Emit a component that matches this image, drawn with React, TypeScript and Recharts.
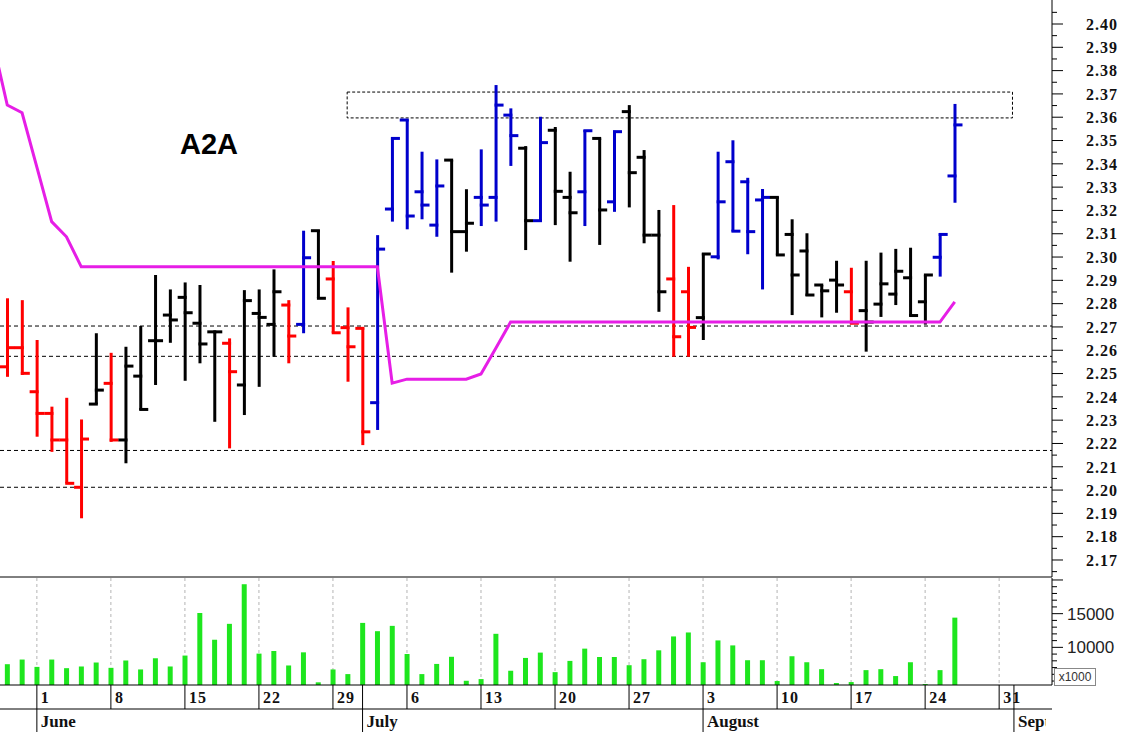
import React from 'react';
import { ComposedChart, Bar, Line, XAxis, YAxis, ReferenceArea, CartesianGrid } from 'recharts';

// sessions: index 0 = Thu 28 May ... index 64 = Wed 26 Aug
const OPENS = [
  2.2529, 2.2611, 2.2422, 2.2329, 2.2215, 2.2012, 2.2369, 2.2458, 2.2215, 2.2489,
  2.2641, 2.2751, 2.2827, 2.2716, 2.2679, 2.2630, 2.2451, 2.2758, 2.2711, 2.2794,
  2.2711, 2.3113, 2.2906, 2.2697, 2.2694, 2.2375, 2.3206, 2.3588, 2.3280, 2.3137,
  2.3416, 2.3109, 2.3256, 2.3256, 2.3609, 2.3467, 2.3156, 2.3544, 2.3256, 2.3280,
  2.3509, 2.3237, 2.3624, 2.3428, 2.3094, 2.2906, 2.2851, 2.2740, 2.3001, 2.3409,
  2.3323, 2.3245, 2.3256, 2.3097, 2.3026, 2.2880, 2.2901, 2.2851, 2.2770, 2.2798,
  2.2841, 2.2911, 2.2808, 2.2999, 2.3348,
];
const HIGHS = [
  2.2823, 2.2815, 2.2644, 2.2358, 2.2396, 2.2303, 2.2673, 2.2589, 2.2615, 2.2704,
  2.2923, 2.2861, 2.2891, 2.2880, 2.2679, 2.2651, 2.2858, 2.2861, 2.2947, 2.2815,
  2.3113, 2.3116, 2.2983, 2.2784, 2.2698, 2.3094, 2.3514, 2.3591, 2.3452, 2.3419,
  2.3416, 2.3291, 2.3462, 2.3738, 2.3638, 2.3476, 2.3602, 2.3558, 2.3366, 2.3545,
  2.3509, 2.3542, 2.3652, 2.3459, 2.3202, 2.3223, 2.2958, 2.3016, 2.3452, 2.3501,
  2.3340, 2.3292, 2.3259, 2.3162, 2.3102, 2.2880, 2.2984, 2.2954, 2.2984, 2.3019,
  2.3035, 2.3040, 2.2923, 2.3102, 2.3657,
];
const LOWS = [
  2.2486, 2.2494, 2.2229, 2.2164, 2.2029, 2.1879, 2.2369, 2.2207, 2.2115, 2.2343,
  2.2451, 2.2632, 2.2469, 2.2544, 2.2293, 2.2179, 2.2322, 2.2443, 2.2572, 2.2544,
  2.2673, 2.2823, 2.2675, 2.2465, 2.2193, 2.2258, 2.3152, 2.3119, 2.3162, 2.3087,
  2.2933, 2.3023, 2.3133, 2.3152, 2.3391, 2.3030, 2.3152, 2.3137, 2.2980, 2.3133,
  2.3052, 2.3194, 2.3213, 2.3059, 2.2765, 2.2572, 2.2572, 2.2644, 2.2990, 2.3109,
  2.3012, 2.2861, 2.3009, 2.2751, 2.2833, 2.2741, 2.2761, 2.2712, 2.2594, 2.2743,
  2.2794, 2.2746, 2.2710, 2.2916, 2.3233,
];
const CLOSES = [
  2.2611, 2.2501, 2.2329, 2.2215, 2.2029, 2.2219, 2.2429, 2.2215, 2.2532, 2.2346,
  2.2641, 2.2730, 2.2761, 2.2627, 2.2679, 2.2508, 2.2813, 2.2741, 2.2851, 2.2661,
  2.2997, 2.2823, 2.2675, 2.2615, 2.2250, 2.3034, 2.3509, 2.3176, 2.3223, 2.3305,
  2.3109, 2.3145, 2.3223, 2.3652, 2.3521, 2.3156, 2.3491, 2.3282, 2.3190, 2.3542,
  2.3202, 2.3538, 2.3362, 2.3094, 2.2851, 2.2658, 2.2698, 2.3013, 2.3237, 2.3111,
  2.3109, 2.3256, 2.3009, 2.2923, 2.2837, 2.2855, 2.2880, 2.2716, 2.2721, 2.2885,
  2.2939, 2.2749, 2.2923, 2.3097, 2.3567,
];
// r = red, k = black, b = blue
const TONES = 'rrrrrrkrkkkkkkkrkkkrbkrrrbbbbbkkbbbkbkkbkbkkkrrkbbbbkkkkkrkkkkkbb'.split('');

// stop line starts one session earlier (index -1) so it enters from the left edge
const STOP_LINE = [
  2.3930, 2.3652, 2.3619, 2.3386, 2.3152, 2.3087,
  2.2958, 2.2958, 2.2958, 2.2958, 2.2958, 2.2958, 2.2958, 2.2958, 2.2958, 2.2958,
  2.2958, 2.2958, 2.2958, 2.2958, 2.2958, 2.2958, 2.2958, 2.2958, 2.2958, 2.2958, 2.2958,
  2.2459, 2.2476, 2.2476, 2.2476, 2.2476, 2.2476, 2.2498, 2.2609,
  2.2721, 2.2721, 2.2721, 2.2721, 2.2721, 2.2721, 2.2721, 2.2721, 2.2721, 2.2721,
  2.2721, 2.2721, 2.2721, 2.2721, 2.2721, 2.2721, 2.2721, 2.2721, 2.2721, 2.2721,
  2.2721, 2.2721, 2.2721, 2.2721, 2.2721, 2.2721, 2.2721, 2.2721, 2.2721, 2.2721,
  2.2808,
];

const VOLUMES = [
  7500, 8190, 7100, 8190, 6910, 7160, 7750, 6960, 8040, 6720,
  8380, 7160, 8780, 15100, 11130, 13490, 19370, 9070, 9460, 7310,
  9260, 4810, 6720, 6030, 13630, 12400, 13190, 9010, 6030, 7540,
  8600, 5040, 5290, 12010, 6510, 8430, 9220, 6320, 7990, 9810,
  8570, 8570, 7350, 8240, 9560, 11620, 12210, 7790, 11030, 10290,
  8090, 8090, 5000, 8680, 7790, 6760, 4710, 4850, 6620, 6760,
  5740, 7790, 4560, 6620, 14410,
];

const SUPPORT_LEVELS = [2.2704, 2.2574, 2.2170, 2.2012];
const TARGET_BOX = { x1: 22.96, x2: 67.9, y1: 2.3597, y2: 2.3708 };

const WEEK_STARTS = [2, 7, 12, 17, 22, 27, 32, 37, 42, 47, 52, 57, 62, 67];
const WEEK_LABELS = ['1', '8', '15', '22', '29', '6', '13', '20', '27', '3', '10', '17', '24', '31'];
const MONTH_STARTS = [2, 24, 47, 68];
const MONTH_LABELS = ['June', 'July', 'August', 'September'];

const PRICE_LABELS = [
  2.17, 2.18, 2.19, 2.20, 2.21, 2.22, 2.23, 2.24, 2.25, 2.26, 2.27, 2.28,
  2.29, 2.30, 2.31, 2.32, 2.33, 2.34, 2.35, 2.36, 2.37, 2.38, 2.39, 2.40,
];
const PRICE_MINOR = [
  2.165, 2.175, 2.185, 2.195, 2.205, 2.215, 2.225, 2.235, 2.245, 2.255, 2.265, 2.275,
  2.285, 2.295, 2.305, 2.315, 2.325, 2.335, 2.345, 2.355, 2.365, 2.375, 2.385, 2.395, 2.405,
];
const VOL_LABELS = [10000, 15000];
const VOL_TICKS = [5000, 6000, 7000, 8000, 9000, 10000, 11000, 12000, 13000, 14000, 15000, 16000, 17000, 18000, 19000, 20000];

const X_DOMAIN: [number, number] = [-0.49, 70.57];
const PRICE_DOMAIN: [number, number] = [2.1627, 2.4103];
const VOL_DOMAIN: [number, number] = [4412, 20294];

const WIDTH = 1123;
const AXIS_W = 71;
const LABEL_CLIP = WIDTH - AXIS_W - 6;
const SERIF = '"Liberation Serif", "DejaVu Serif", serif';
const SANS = '"Liberation Sans", Arial, sans-serif';
const COLORS: Record<string, string> = { r: '#ff0000', k: '#000000', b: '#0000cc' };
const GRID = '#b4b4b4';

const priceRows = STOP_LINE.map((stop, k) => {
  const i = k - 1;
  if (i < 0) return { i, stop };
  return { i, stop, open: OPENS[i], high: HIGHS[i], low: LOWS[i], close: CLOSES[i], tone: TONES[i] };
});
const volumeRows = VOLUMES.map((vol, i) => ({ i, vol }));

const OhlcBar = (props: any) => {
  const { x, y, width, height, payload } = props;
  if (payload.open == null || !isFinite(y) || !isFinite(height)) return null;
  const cx = x + width / 2;
  const yOf = (v: number) => y + ((payload.high - v) / (payload.high - payload.low)) * height;
  return (
    <g stroke={COLORS[payload.tone]} strokeWidth={3}>
      <line x1={cx} y1={y} x2={cx} y2={y + height} />
      <line x1={cx - 7.5} y1={yOf(payload.open)} x2={cx + 1.5} y2={yOf(payload.open)} />
      <line x1={cx - 1.5} y1={yOf(payload.close)} x2={cx + 7.5} y2={yOf(payload.close)} />
    </g>
  );
};

const PriceTick = (props: any) => {
  const { x, y, payload } = props;
  const major = PRICE_LABELS.some(p => Math.abs(p - payload.value) < 1e-6);
  return (
    <g>
      <line x1={x} y1={y} x2={x + (major ? 11 : 5)} y2={y} stroke="#000" />
      {major && (
        <text x={x + 34} y={y} dy="0.36em" fontFamily={SERIF} fontWeight="bold" fontSize={16}
          letterSpacing={1} fill="#111">
          {payload.value.toFixed(2)}
        </text>
      )}
    </g>
  );
};

const VolTick = (props: any) => {
  const { x, y, payload } = props;
  const major = payload.value % 5000 === 0;
  return (
    <g>
      <line x1={x} y1={y} x2={x + (major ? 11 : 5)} y2={y} stroke="#000" />
      {VOL_LABELS.includes(payload.value) && (
        <text x={x + 15} y={y} dy="0.36em" fontFamily={SANS} fontSize={17} fill="#222">
          {payload.value}
        </text>
      )}
    </g>
  );
};

const DayTick = (props: any) => {
  const { x, y, payload } = props;
  const k = WEEK_STARTS.indexOf(payload.value);
  return (
    <g>
      <line x1={x} y1={y} x2={x} y2={y + 24} stroke="#000" />
      {k >= 0 && (
        <text x={x + 4} y={y + 18} fontFamily={SERIF} fontWeight="bold" fontSize={16} letterSpacing={1} fill="#111">
          {WEEK_LABELS[k]}
        </text>
      )}
    </g>
  );
};

const MonthTick = (props: any) => {
  const { x, y, payload } = props;
  const k = MONTH_STARTS.indexOf(payload.value);
  return (
    <g>
      <clipPath id={`mclip${k}`}>
        <rect x={x} y={y} width={Math.max(0, LABEL_CLIP - x)} height={24} />
      </clipPath>
      <line x1={x} y1={y} x2={x} y2={y + 24} stroke="#000" />
      <text x={x + 4} y={y + 18} fontFamily={SERIF} fontWeight="bold" fontSize={17} fill="#111"
        clipPath={`url(#mclip${k})`}>
        {MONTH_LABELS[k]}
      </text>
    </g>
  );
};

export default function App() {
  return (
    <div style={{ position: 'absolute', left: 0, top: 0, width: WIDTH, height: 732, background: '#fff' }}>
      <ComposedChart width={WIDTH} height={578} data={priceRows} margin={{ top: 0, right: 0, bottom: 0, left: 0 }}>
        <CartesianGrid horizontal={false} verticalValues={WEEK_STARTS} stroke={GRID} strokeDasharray="3 3" />
        <CartesianGrid vertical={false} horizontalValues={SUPPORT_LEVELS} stroke="#000" strokeDasharray="4 3" />
        <XAxis dataKey="i" type="number" domain={X_DOMAIN} allowDataOverflow height={1} ticks={WEEK_STARTS}
          tick={false} tickLine={false} axisLine={{ stroke: '#000' }} />
        <YAxis orientation="right" type="number" domain={PRICE_DOMAIN} allowDataOverflow width={AXIS_W}
          ticks={[...PRICE_MINOR, ...PRICE_LABELS].sort((a, b) => a - b)} interval={0}
          tickSize={0} tickMargin={0} tickLine={false} tick={<PriceTick />} axisLine={{ stroke: '#000' }} />
        <ReferenceArea x1={TARGET_BOX.x1} x2={TARGET_BOX.x2} y1={TARGET_BOX.y1} y2={TARGET_BOX.y2}
          fill="none" fillOpacity={0} stroke="#000" strokeDasharray="3 2" ifOverflow="visible" />
        <Bar dataKey={(d: any) => (d.open == null ? undefined : [d.low, d.high])} barSize={15}
          shape={<OhlcBar />} isAnimationActive={false} />
        <Line dataKey="stop" type="linear" stroke="#e61ee6" strokeWidth={3} dot={false}
          activeDot={false} isAnimationActive={false} />
      </ComposedChart>
      <ComposedChart width={WIDTH} height={154} data={volumeRows} margin={{ top: 0, right: 0, bottom: 0, left: 0 }}>
        <CartesianGrid xAxisId="d" horizontal={false} verticalValues={WEEK_STARTS} stroke={GRID} strokeDasharray="3 3" />
        <XAxis xAxisId="d" dataKey="i" type="number" domain={X_DOMAIN} allowDataOverflow height={24}
          ticks={[...WEEK_STARTS, 24, 68].sort((a, b) => a - b)} interval={0}
          tickSize={0} tickMargin={0} tickLine={false} tick={<DayTick />} axisLine={{ stroke: '#000' }} />
        <XAxis xAxisId="m" dataKey="i" type="number" domain={X_DOMAIN} allowDataOverflow height={23}
          ticks={MONTH_STARTS} interval={0}
          tickSize={0} tickMargin={0} tickLine={false} tick={<MonthTick />} axisLine={{ stroke: '#000' }} />
        <YAxis orientation="right" type="number" domain={VOL_DOMAIN} allowDataOverflow width={AXIS_W}
          ticks={VOL_TICKS} interval={0} tickSize={0} tickMargin={0} tickLine={false}
          tick={<VolTick />} axisLine={{ stroke: '#000' }} />
        <Bar xAxisId="d" dataKey="vol" fill="#1ee61e" barSize={5} isAnimationActive={false} />
      </ComposedChart>
      <div style={{
        position: 'absolute', left: 180, top: 129.5, fontFamily: SANS, fontWeight: 'bold',
        fontSize: 29, lineHeight: '29px', color: '#000',
      }}>A2A</div>
      <div style={{
        position: 'absolute', left: 1054, top: 668, width: 40, height: 16, border: '1px solid #888',
        fontFamily: SANS, fontSize: 12, lineHeight: '16px', textAlign: 'center', color: '#333', background: '#fff',
      }}>x1000</div>
    </div>
  );
}
